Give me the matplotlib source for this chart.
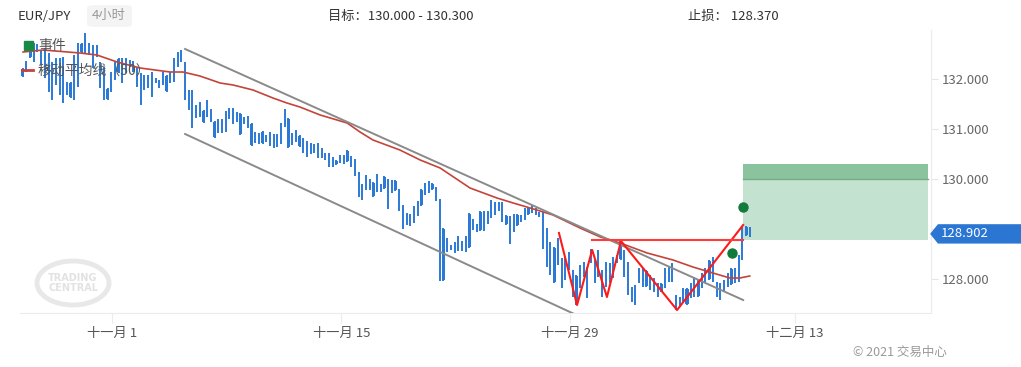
import matplotlib
matplotlib.use("Agg")
import matplotlib.pyplot as plt
from matplotlib.patches import Rectangle, Polygon, Ellipse, FancyBboxPatch
from matplotlib.transforms import blended_transform_factory

plt.rcParams['font.family'] = ['Noto Sans CJK SC', 'DejaVu Sans']

# 4h bars, high / low (EUR/JPY)
high = [132.22, 132.36, 132.62, 132.72, 132.70, 132.58, 132.62, 132.52, 132.34, 132.42,
        132.42, 132.44, 131.94, 131.94, 132.48, 132.72, 132.72, 132.92, 132.72, 132.68,
        132.68, 132.34, 132.24, 131.82, 132.14, 132.34, 132.42, 132.42, 132.42, 132.38,
        132.36, 132.24, 132.12, 132.08, 132.08, 132.14, 132.02, 131.98, 132.14, 132.08,
        132.14, 132.42, 132.54, 132.58, 132.34,
        131.78, 131.78, 131.48, 131.54, 131.38, 131.58, 131.40, 131.16, 131.20, 131.20,
        131.36, 131.42, 131.42, 131.34, 131.32, 131.24, 131.26, 131.12, 130.94, 130.92,
        130.96, 130.88, 130.94, 130.90, 130.90, 131.12, 131.40, 131.22, 130.92, 130.98,
        130.88, 130.82, 130.76, 130.72, 130.70, 130.72, 130.62, 130.52, 130.52, 130.44,
        130.38, 130.48, 130.48, 130.58, 130.46, 130.40, 130.14, 129.90, 130.08, 130.00,
        129.94, 130.10, 129.90, 130.06, 130.00, 129.98, 129.98,
        129.80, 129.48, 129.32, 129.30, 129.46, 129.56, 129.80, 129.92, 129.96, 129.92,
        129.84, 129.60, 129.02, 128.82, 128.68, 128.74, 128.86, 128.76, 128.86, 129.32,
        129.20, 129.10, 129.36, 129.36, 129.36, 129.58, 129.54, 129.54, 129.54, 129.28,
        129.26, 129.30, 129.30,
        129.28, 129.42, 129.44, 129.48, 129.42, 129.34, 129.34, 129.02, 128.74, 128.64,
        128.82, 128.42, 128.44, 128.54, 128.18, 128.08, 128.28, 128.34, 128.24, 128.60,
        128.38, 128.58, 128.18, 128.34, 128.32, 128.44, 128.48, 128.78, 128.58, 128.34,
        127.84, 127.88, 128.22, 128.22, 128.18, 128.08, 128.02, 127.92, 127.92, 128.22,
        128.24, 128.32, 127.68, 127.64, 127.82, 127.82, 127.92, 128.04, 127.98, 128.12,
        128.22, 128.38, 128.44, 127.94, 127.92, 127.98, 128.12, 128.22, 128.22, 128.48,
        129.04, 129.06, 129.04]
low = [132.04, 132.14, 132.42, 132.34, 132.54, 132.28, 132.02, 131.74, 131.58, 131.88,
       131.68, 131.52, 131.68, 131.62, 131.58, 131.84, 132.52, 132.52, 132.48, 132.22,
       132.44, 131.82, 131.58, 131.58, 131.74, 131.98, 132.12, 131.92, 132.12, 132.24,
       132.14, 131.84, 131.48, 131.78, 131.82, 131.64, 131.92, 131.82, 131.88, 131.74,
       131.92, 131.94, 132.24, 132.34, 131.58,
       131.38, 131.02, 131.22, 131.24, 131.12, 131.24, 131.14, 130.82, 130.92, 130.92,
       130.94, 131.20, 131.10, 131.14, 130.88, 131.10, 131.02, 130.66, 130.72, 130.70,
       130.70, 130.74, 130.66, 130.62, 130.64, 130.70, 131.04, 130.62, 130.68, 130.74,
       130.64, 130.52, 130.44, 130.50, 130.52, 130.42, 130.42, 130.38, 130.24, 130.24,
       130.28, 130.32, 130.30, 130.34, 130.24, 130.06, 129.64, 129.58, 129.78, 129.78,
       129.64, 129.74, 129.74, 129.80, 129.40, 129.72, 129.76,
       129.36, 129.00, 129.08, 129.06, 129.12, 129.26, 129.46, 129.68, 129.72, 129.78,
       129.56, 127.96, 127.96, 128.54, 128.58, 128.52, 128.56, 128.56, 128.54, 128.62,
       128.98, 128.94, 128.96, 128.96, 129.10, 129.22, 129.28, 129.36, 129.14, 129.08,
       128.70, 128.94, 129.06,
       129.14, 129.18, 129.28, 129.32, 129.28, 129.24, 128.60, 128.24, 128.08, 127.92,
       128.28, 127.82, 127.98, 128.18, 127.64, 127.48, 127.82, 128.04, 127.62, 128.32,
       127.92, 128.04, 127.64, 127.84, 127.92, 128.02, 128.32, 128.38, 128.04, 127.68,
       127.54, 127.48, 127.92, 127.84, 127.84, 127.78, 127.74, 127.64, 127.74, 127.82,
       127.94, 127.94, 127.38, 127.44, 127.52, 127.48, 127.62, 127.64, 127.64, 127.82,
       127.92, 127.98, 127.94, 127.64, 127.58, 127.74, 127.84, 127.88, 127.92, 127.94,
       128.38, 128.86, 128.84]

# candle bodies that show up thick: (bar, open, close)
bodies = [(0, 132.20, 132.06), (2, 132.60, 132.44), (13, 131.92, 131.64), (16, 132.70, 132.54),
          (23, 131.80, 131.60), (26, 132.40, 132.14), (39, 132.06, 131.76),
          (49, 131.36, 131.14), (52, 131.14, 130.84), (59, 131.30, 130.90), (62, 131.10, 130.68),
          (65, 130.94, 130.72), (72, 131.20, 130.64), (75, 130.86, 130.66), (85, 130.36, 130.30),
          (88, 130.56, 130.36), (95, 129.92, 129.66), (98, 130.04, 129.82), (101, 129.96, 129.78),
          (108, 129.78, 129.48), (111, 129.90, 129.80), (114, 129.00, 127.98), (121, 129.30, 128.64),
          (124, 129.34, 128.98), (131, 129.26, 129.10), (134, 129.28, 129.08),
          (137, 129.42, 129.30), (144, 128.62, 127.94), (150, 128.06, 127.50), (162, 128.76, 128.40),
          (169, 128.16, 127.86), (173, 127.90, 127.76), (180, 127.80, 127.50), (183, 127.96, 127.66),
          (186, 128.36, 128.00), (192, 128.20, 127.90), (196, 129.04, 128.88)]

# moving average (50), read at some bars
ma_x = [0.1, 5.5, 15.5, 20.1, 25.6, 31.8, 39.9, 43.4, 48.0, 53.5, 57.0, 62.4, 67.8, 71.6, 75.1,
        80.6, 87.9, 91.4, 94.9, 102.2, 107.7, 113.1, 121.2, 128.5, 132.9, 137.5, 143.7, 151.0,
        156.5, 161.9, 169.2, 176.2, 181.6, 187.0, 191.6, 194.3, 197.0]
ma_y = [132.54, 132.58, 132.52, 132.48, 132.34, 132.22, 132.14, 132.14, 132.06, 131.92, 131.88,
        131.78, 131.62, 131.52, 131.44, 131.28, 131.12, 130.94, 130.78, 130.58, 130.38, 130.22,
        129.82, 129.62, 129.52, 129.42, 129.28, 129.02, 128.84, 128.72, 128.52, 128.38, 128.24,
        128.12, 128.02, 128.02, 128.06]

# channel
upper_x, upper_y = [44.0, 195.2], [132.60, 127.58]
lower_x, lower_y = [44.0, 151.8], [130.90, 127.22]
# pattern
zig_x = [145.3, 150.2, 154.3, 158.3, 162.1, 177.3, 195.2]
zig_y = [128.92, 127.48, 128.58, 127.64, 128.76, 127.38, 129.08]
neck_x, neck_y = [154.3, 195.2], [128.77, 128.77]
event_x, event_y = [195.2, 192.2], [129.44, 128.52]

target_lo, target_hi = 130.000, 130.300
entry = 128.77
box_x = [195.2, 245.3]
last_price = 128.902

tick_pos = [24.2, 86.3, 148.3, 209.3]
tick_lab = ['十一月 1', '十一月 15', '十一月 29', '十二月 13']
yticks = [128, 129, 130, 131, 132]

W, H = 1021, 367
fig = plt.figure(figsize=(W / 100, H / 100), dpi=100)
ax = fig.add_axes([20 / W, 1 - 313 / H, 911 / W, 283 / H])

blue = '#2b79d5'
ax.vlines(range(len(high)), low, high, color=blue, lw=1.4, zorder=3)
for i, o, c in bodies:
    ax.add_patch(Rectangle((i - 0.42, min(o, c)), 0.84, abs(o - c), color=blue, lw=0, zorder=3))

ax.plot(ma_x, ma_y, color='#c4443a', lw=1.2, zorder=4, solid_joinstyle='round')
ax.plot(upper_x, upper_y, color='#8a8a8a', lw=1.4, zorder=4)
ax.plot(lower_x, lower_y, color='#8a8a8a', lw=1.4, zorder=4)
ax.plot(zig_x, zig_y, color='#ff1a1a', lw=1.5, zorder=5)
ax.plot(neck_x, neck_y, color='#ff3b3b', lw=1.5, zorder=5)
ax.scatter(event_x, event_y, s=42, color='#127a3a', zorder=6)

ax.add_patch(Rectangle((box_x[0], entry), box_x[1] - box_x[0], target_lo - entry,
                       color='#c4e2d0', lw=0, zorder=1))
ax.add_patch(Rectangle((box_x[0], target_lo), box_x[1] - box_x[0], target_hi - target_lo,
                       color='#8cc39f', lw=0, zorder=1))
ax.plot(box_x, [target_lo, target_lo], color='#6fae86', lw=1, zorder=2)

ax.set_xlim(-0.73, 246.1)
ax.set_ylim(127.32, 132.98)

for s in ['top', 'left']:
    ax.spines[s].set_visible(False)
for s in ['bottom', 'right']:
    ax.spines[s].set_color('#ececec')
ax.yaxis.tick_right()
ax.set_yticks(yticks)
ax.set_yticklabels(['%.3f' % v for v in yticks])
ax.set_xticks(tick_pos)
ax.set_xticklabels(tick_lab)
ax.tick_params(axis='y', length=5, color='#e6e6e6', labelcolor='#666666', labelsize=9.5, pad=3)
ax.tick_params(axis='x', length=7, color='#ececec', labelcolor='#555555', labelsize=9.5, pad=3)

# last price tag (covers the 129.000 label as in the original)
tr = blended_transform_factory(ax.transAxes, ax.transData)
p = last_price
tag = Polygon([(1.0, p), (1.008, p + 0.18), (1.1, p + 0.18), (1.1, p - 0.18), (1.008, p - 0.18)],
              closed=True, transform=tr, color='#2a76d2', clip_on=False, zorder=10)
ax.add_patch(tag)
ax.text(1.011, p, '%.3f' % p, transform=tr, color='white', fontsize=9.5, va='center',
        ha='left', zorder=11, clip_on=False)

# watermark
ax.add_patch(Ellipse((73 / W, 1 - 283 / H), 72 / W, 44 / H, transform=fig.transFigure,
                     fill=False, ec='#e8e8e8', lw=3.5, zorder=0))
fig.text(73 / W, 1 - 283 / H, 'TRADING\nCENTRAL', color='#e2e2e2', fontsize=7,
         fontweight='bold', ha='center', va='center', linespacing=0.9, family='DejaVu Sans')

# header
fig.text(18 / W, 1 - 16 / H, 'EUR/JPY', color='#333333', fontsize=9.5, va='center')
fig.patches.append(FancyBboxPatch((87 / W, 1 - 27 / H), 45 / W, 22 / H,
                                  boxstyle='round,pad=0,rounding_size=0.008',
                                  transform=fig.transFigure, fc='#f4f4f4', ec='none'))
fig.text(109 / W, 1 - 16 / H, '4小时', color='#9a9a9a', fontsize=9.5, ha='center', va='center')
fig.text(328 / W, 1 - 16 / H, '目标：130.000 - 130.300', color='#333333', fontsize=9.5, va='center')
fig.text(688 / W, 1 - 16 / H, '止损： 128.370', color='#333333', fontsize=9.5, va='center')

# legend
fig.patches.append(Rectangle((24 / W, 1 - 50 / H), 9 / W, 9 / H, transform=fig.transFigure,
                             color='#178a45'))
fig.text(38 / W, 1 - 46 / H, '事件', color='#555555', fontsize=10, va='center')
fig.lines.append(plt.Line2D([22 / W, 33 / W], [1 - 70 / H, 1 - 70 / H], transform=fig.transFigure,
                            color='#c4443a', lw=2))
fig.text(38 / W, 1 - 71 / H, '移动平均线（50）', color='#555555', fontsize=10, va='center')

fig.text(853 / W, 1 - 352 / H, '© 2021 交易中心', color='#9a9a9a', fontsize=9, va='center')

fig.savefig('out.png', dpi=100)
